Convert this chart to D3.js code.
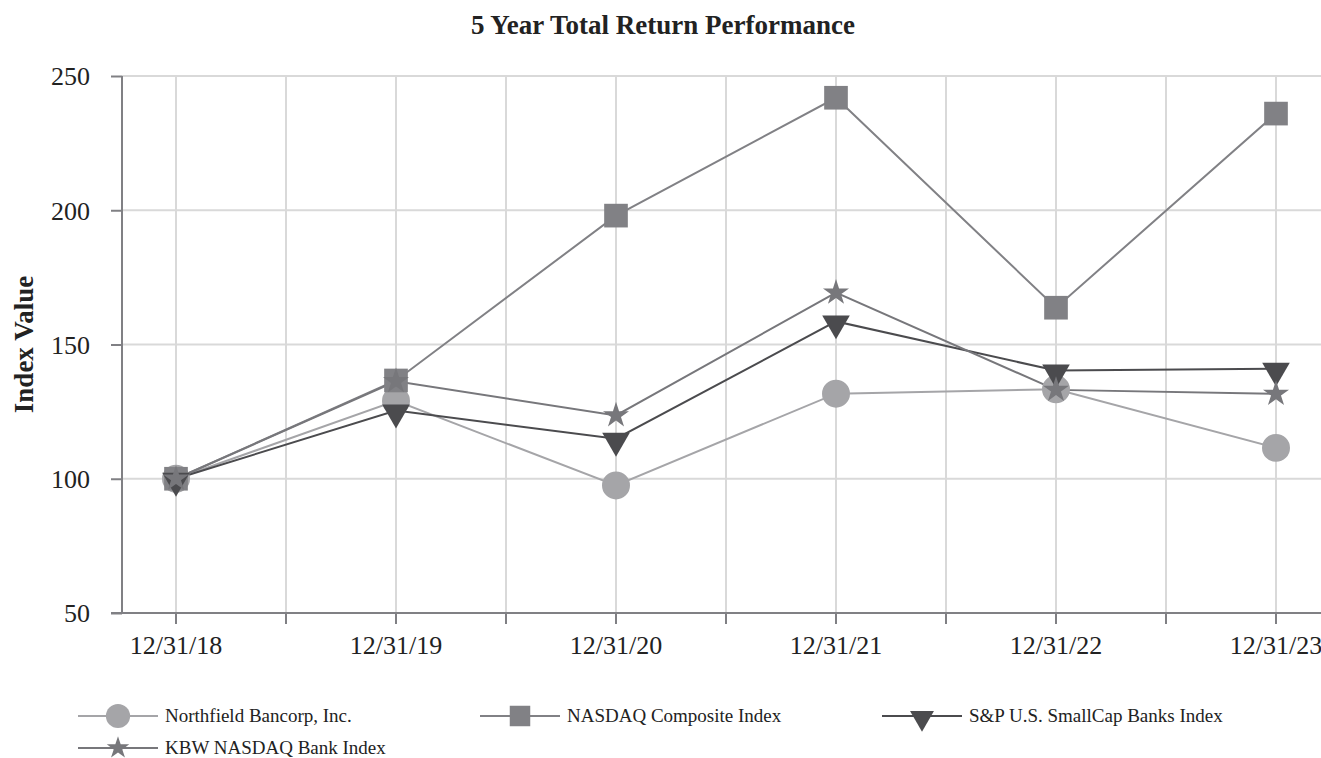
<!DOCTYPE html>
<html>
<head>
<meta charset="utf-8">
<script src="https://cdn.jsdelivr.net/npm/d3@7"></script>
<style>
  body { margin: 0; background: #fff; }
  svg { display: block; font-family: "Liberation Serif", "Times New Roman", serif; }
</style>
</head>
<body>
<svg id="chart" width="1321" height="758"></svg>
<script>
// data
const dates = ["12/31/18", "12/31/19", "12/31/20", "12/31/21", "12/31/22", "12/31/23"];
const northfield = [100, 129.0, 97.5, 131.7, 133.3, 111.5];
const nasdaq = [100, 136.6, 198.0, 241.9, 163.7, 236.0];
const smallCapBanks = [100, 125.4, 114.9, 158.6, 140.3, 141.0];
const kbwBank = [100, 136.3, 123.6, 169.3, 133.1, 131.6];
const yTicks = [50, 100, 150, 200, 250];

const series = [
  { name: "Northfield Bancorp, Inc.", values: northfield, color: "#a5a5a8", symbol: d3.symbolCircle, size: 615, rot: 0 },
  { name: "NASDAQ Composite Index", values: nasdaq, color: "#818185", symbol: d3.symbolSquare, size: 560, rot: 0 },
  { name: "S&P U.S. SmallCap Banks Index", values: smallCapBanks, color: "#4b4b4e", symbol: d3.symbolTriangle, size: 330, rot: 180 },
  { name: "KBW NASDAQ Bank Index", values: kbwBank, color: "#77777b", symbol: d3.symbolStar, size: 210, rot: 0 }
];

const width = 1321, height = 758;
const plotLeft = 122, plotRight = 1321, plotTop = 76, plotBottom = 613;

const svg = d3.select("#chart");

const x = d3.scalePoint().domain(dates).range([176, 1276]);
const y = d3.scaleLinear().domain([50, 250]).range([plotBottom, plotTop]);

// vertical grid positions: each date plus midpoints
const step = x.step();
const xGrid = [];
dates.forEach((d, i) => {
  xGrid.push(x(d));
  if (i < dates.length - 1) xGrid.push(x(d) + step / 2);
});

const grid = svg.append("g").attr("stroke", "#d9d9d9").attr("stroke-width", 2);
grid.selectAll(".h").data(yTicks.slice(1)).join("line")
    .attr("x1", plotLeft).attr("x2", plotRight)
    .attr("y1", d => y(d)).attr("y2", d => y(d));
grid.selectAll(".v").data(xGrid).join("line")
    .attr("x1", d => d).attr("x2", d => d)
    .attr("y1", plotTop).attr("y2", plotBottom);

// axes
const axisColor = "#808084";
const yAxis = svg.append("g")
    .attr("transform", `translate(${plotLeft},0)`)
    .call(d3.axisLeft(y).tickValues(yTicks).tickSize(11).tickPadding(21))
    .attr("font-family", null).attr("font-size", null);
yAxis.select(".domain").attr("stroke", axisColor).attr("stroke-width", 2)
    .attr("d", `M0,${plotTop}V${plotBottom}`);
yAxis.selectAll(".tick line").attr("stroke", axisColor).attr("stroke-width", 2);
yAxis.selectAll(".tick text").attr("fill", "#222").attr("dy", "0.34em").style("font-size", "26px");

const xAxis = svg.append("g")
    .attr("transform", `translate(0,${plotBottom})`);
xAxis.append("line").attr("x1", plotLeft - 11).attr("x2", plotRight)
    .attr("stroke", axisColor).attr("stroke-width", 2);
xAxis.selectAll(".xt").data(xGrid).join("line")
    .attr("x1", d => d).attr("x2", d => d).attr("y1", 0).attr("y2", 11)
    .attr("stroke", axisColor).attr("stroke-width", 2);
xAxis.selectAll(".xl").data(dates).join("text")
    .attr("x", d => x(d)).attr("y", 41)
    .attr("text-anchor", "middle").attr("fill", "#222")
    .style("font-size", "26px").text(d => d);

// lines
const line = d3.line().x((v, i) => x(dates[i])).y(v => y(v));
series.forEach(s => {
  svg.append("path").attr("fill", "none")
      .attr("stroke", s.color).attr("stroke-width", 2)
      .attr("d", line(s.values));
});

// markers
series.forEach(s => {
  const sym = d3.symbol().type(s.symbol).size(s.size);
  svg.append("g").selectAll("path").data(s.values).join("path")
      .attr("d", sym)
      .attr("fill", s.color)
      .attr("transform", (v, i) => `translate(${x(dates[i])},${y(v) + (s.rot ? 2 : 0)}) rotate(${s.rot})`);
});

// title
svg.append("text").attr("x", 663).attr("y", 34).attr("text-anchor", "middle")
    .attr("font-weight", "bold").style("font-size", "27px").attr("fill", "#222")
    .text("5 Year Total Return Performance");

// y label
svg.append("text").attr("transform", `translate(33,${(plotTop + plotBottom) / 2}) rotate(-90)`)
    .attr("text-anchor", "middle").attr("font-weight", "bold")
    .style("font-size", "27px").attr("fill", "#222").text("Index Value");

// legend
const legendPos = [[78, 716], [480, 716], [882, 716], [78, 748]];
series.forEach((s, i) => {
  const [lx, ly] = legendPos[i];
  const g = svg.append("g").attr("transform", `translate(${lx},${ly})`);
  g.append("line").attr("x1", 0).attr("x2", 80).attr("stroke", s.color).attr("stroke-width", 2);
  g.append("path").attr("d", d3.symbol().type(s.symbol).size(s.size * 0.75))
      .attr("fill", s.color)
      .attr("transform", `translate(40,${s.rot ? 2 : 0}) rotate(${s.rot})`);
  g.append("text").attr("x", 87).attr("y", 6).style("font-size", "19px")
      .attr("fill", "#222").text(s.name);
});
</script>
</body>
</html>
